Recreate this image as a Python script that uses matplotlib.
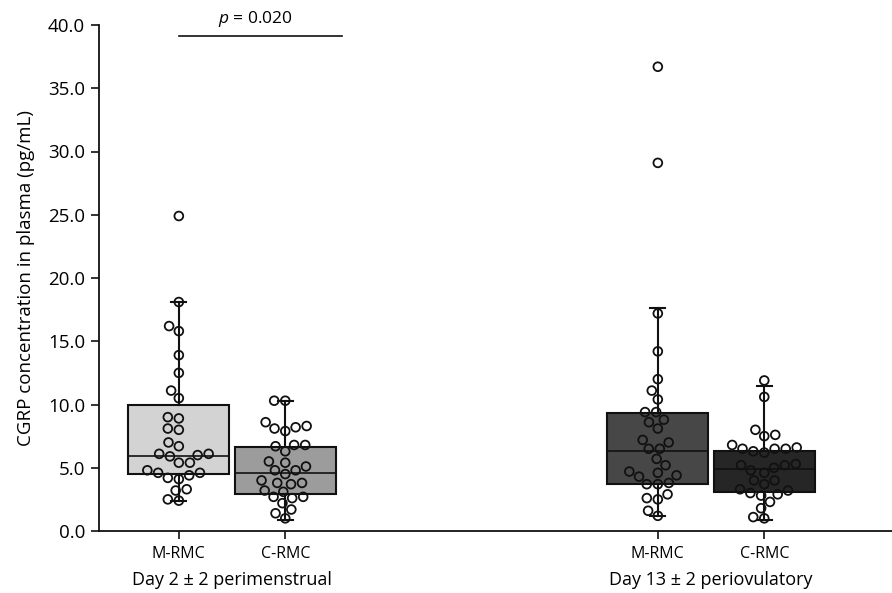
import numpy as np
import pandas as pd
import matplotlib
matplotlib.use("Agg")
import matplotlib.pyplot as plt
import seaborn as sns

plt.rcParams['font.family'] = ['Open Sans', 'DejaVu Sans']
plt.rcParams['mathtext.fontset'] = 'custom'
plt.rcParams['mathtext.it'] = 'Open Sans:italic'
plt.rcParams['mathtext.rm'] = 'Open Sans'

groups = ['M-RMC', 'C-RMC', 'M-RMC', 'C-RMC']
phases = ['Day 2 \u00b1 2 perimenstrual', 'Day 13 \u00b1 2 periovulatory']
positions = [0, 1, 4.5, 5.5]
box_colors = ['#d3d3d3', '#9c9c9c', '#474747', '#262626']

# individual CGRP values (pg/mL) per group
m_day2 = [24.9, 18.1, 16.2, 15.8, 13.9, 12.5, 11.1, 10.5, 8.9, 9.0, 8.1, 8.0,
          7.0, 6.7, 6.1, 6.0, 5.9, 6.1, 5.4, 5.4, 4.6, 4.4, 4.1, 4.2, 4.6, 4.8,
          3.2, 3.3, 2.4, 2.5]
c_day2 = [10.3, 10.3, 8.2, 8.6, 8.3, 7.9, 8.1, 6.8, 6.7, 6.8, 6.3, 5.5, 5.1,
          5.4, 4.8, 4.8, 4.5, 3.8, 3.7, 3.8, 4.0, 3.2, 3.1, 2.7, 2.7, 2.6, 2.2,
          1.7, 1.4, 1.0]
m_day13 = [36.7, 29.1, 17.2, 14.2, 12.0, 11.1, 10.4, 9.4, 9.4, 8.6, 8.8, 8.1,
           7.0, 7.2, 6.5, 6.5, 5.7, 5.2, 4.6, 4.7, 4.4, 4.3, 3.7, 3.8, 3.7, 2.9,
           2.5, 2.6, 1.6, 1.2]
c_day13 = [11.9, 10.6, 7.6, 8.0, 7.5, 6.5, 6.5, 6.5, 6.6, 6.8, 6.2, 6.3, 5.3,
           5.2, 5.2, 4.6, 4.8, 5.0, 4.0, 4.0, 3.7, 3.0, 3.3, 3.2, 2.8, 2.9, 2.3,
           1.8, 1.1, 1.0]
values = [m_day2, c_day2, m_day13, c_day13]

# box summaries
medians = [5.95, 4.6, 6.3, 4.9]
q1 = [4.5, 2.95, 3.7, 3.1]
q3 = [10.0, 6.65, 9.3, 6.35]
whis_lo = [2.4, 0.9, 1.15, 0.9]
whis_hi = [18.1, 10.3, 17.6, 11.5]

p_text = '$p$ = 0.020'
p_y = 39.15

fig = plt.figure(figsize=(8.92, 5.93), dpi=100)
ax = fig.add_axes([99 / 892, 62 / 593, 1 - 99 / 892, 506 / 593])

stats = [dict(med=m, q1=a, q3=b, whislo=lo, whishi=hi)
         for m, a, b, lo, hi in zip(medians, q1, q3, whis_lo, whis_hi)]
bp = ax.bxp(stats, positions=positions, widths=0.95, capwidths=0.14,
            showfliers=False, patch_artist=True, manage_ticks=False,
            boxprops=dict(linewidth=1.5, edgecolor='#111111'),
            medianprops=dict(color='#111111', linewidth=1.2),
            whiskerprops=dict(color='#111111', linewidth=1.5),
            capprops=dict(color='#111111', linewidth=1.5))
for patch, col in zip(bp['boxes'], box_colors):
    patch.set_facecolor(col)

df = pd.DataFrame({'pos': np.repeat(positions, [len(v) for v in values]),
                   'val': np.concatenate(values)})
sns.swarmplot(data=df, x='pos', y='val', native_scale=True, orient='x',
              size=6.3, color='white', edgecolor='#111111', linewidth=1.3,
              ax=ax, zorder=4)
for coll in ax.collections:
    coll.set_facecolor('none')

ax.set_xlim(-0.75, 6.7)
ax.set_ylim(0, 40)
ax.set_yticks(np.arange(0, 41, 5))
ax.set_yticklabels([f'{v:.1f}' for v in np.arange(0, 41, 5)], fontsize=13.5)
ax.set_xticks(positions)
ax.set_xticklabels(groups, fontsize=11.5)
ax.tick_params(axis='both', length=6, width=1.2, color='#111111')
ax.tick_params(axis='x', pad=5)
ax.tick_params(axis='y', pad=4)
ax.set_xlabel('')
ax.set_ylabel('CGRP concentration in plasma (pg/mL)', fontsize=13.5, labelpad=9)
for side in ['top', 'right']:
    ax.spines[side].set_visible(False)
for side in ['left', 'bottom']:
    ax.spines[side].set_linewidth(1.3)
    ax.spines[side].set_color('#111111')

# phase labels under each pair
trans = ax.get_xaxis_transform()
for i, name in enumerate(phases):
    xc = (positions[2 * i] + positions[2 * i + 1]) / 2
    ax.text(xc, -0.08, name, transform=trans, ha='center', va='top',
            fontsize=13)

# significance bar
ax.plot([positions[0], positions[1] + 0.53], [p_y, p_y], color='#111111',
        lw=1.2, clip_on=False)
ax.text(0.72, p_y + 0.55, p_text, ha='center', va='bottom', fontsize=12.5)

fig.savefig('out.png', dpi=100)
